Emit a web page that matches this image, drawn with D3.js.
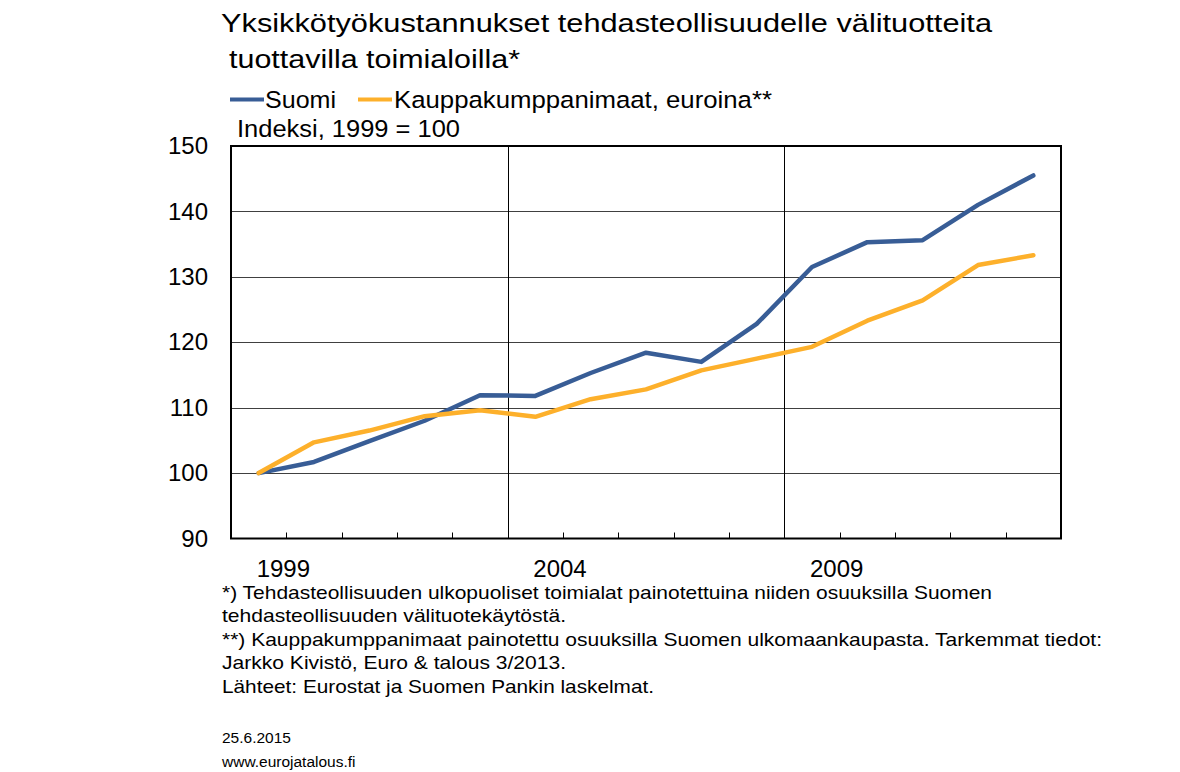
<!DOCTYPE html>
<html>
<head>
<meta charset="utf-8">
<script src="https://cdn.jsdelivr.net/npm/d3@7"></script>
<style>
  html, body { margin: 0; padding: 0; background: #fff; }
  svg { display: block; font-family: Arial, "Liberation Sans", sans-serif; }
</style>
</head>
<body>
<svg id="chart" width="1180" height="772"></svg>
<script>
const years = [1999,2000,2001,2002,2003,2004,2005,2006,2007,2008,2009,2010,2011,2012,2013];
const suomi = [100.0,101.7,104.9,108.0,111.9,111.8,115.3,118.4,117.0,122.8,131.5,135.3,135.6,141.0,145.5];
const kauppakumppanit = [100.0,104.7,106.5,108.7,109.6,108.6,111.3,112.8,115.7,117.5,119.3,123.3,126.4,131.8,133.3];
const yTicks = [90,100,110,120,130,140,150];
const xLabelYears = [1999,2004,2009];
const verticalGridYears = [2004,2009];
const titleLines = ["Yksikkötyökustannukset tehdasteollisuudelle välituotteita", "tuottavilla toimialoilla*"];
const legendLabels = ["Suomi", "Kauppakumppanimaat, euroina**"];
const unitLabel = "Indeksi, 1999 = 100";
const footnotes = [
  "*) Tehdasteollisuuden ulkopuoliset toimialat painotettuina niiden osuuksilla Suomen",
  "tehdasteollisuuden välituotekäytöstä.",
  "**) Kauppakumppanimaat  painotettu osuuksilla Suomen ulkomaankaupasta. Tarkemmat tiedot:",
  "Jarkko Kivistö, Euro & talous 3/2013.",
  "Lähteet: Eurostat ja Suomen Pankin laskelmat."
];
const dateText = "25.6.2015";
const siteText = "www.eurojatalous.fi";

const colors = ["#385D96", "#FDB02B"];

const svg = d3.select("#chart");
const L = 231, R = 1061, T = 146, B = 538.5;

const x = d3.scaleBand().domain(years).range([L, R]).padding(0);
const y = d3.scaleLinear().domain([90, 150]).range([B, T]);
const cx = yr => x(yr) + x.bandwidth() / 2;

function stretchedText(xp, yp, size, len, str) {
  return svg.append("text").attr("x", xp).attr("y", yp).attr("font-size", size)
    .attr("textLength", len).attr("lengthAdjust", "spacingAndGlyphs").text(str);
}

// Title
stretchedText(221, 32, 26.5, 771, titleLines[0]);
stretchedText(229, 68, 26.5, 291, titleLines[1]);

// Legend
const legendPos = [[230, 264, 265, 71], [358, 392, 394, 378]];
legendLabels.forEach((lab, i) => {
  svg.append("line").attr("x1", legendPos[i][0]).attr("x2", legendPos[i][1])
    .attr("y1", 99.5).attr("y2", 99.5).attr("stroke", colors[i]).attr("stroke-width", 4);
  stretchedText(legendPos[i][2], 108, 24.5, legendPos[i][3], lab);
});
stretchedText(237, 137, 23, 223, unitLabel);

// Horizontal gridlines
svg.append("g").selectAll("line").data(yTicks.filter(d => d > 90 && d < 150)).join("line")
  .attr("x1", L).attr("x2", R)
  .attr("y1", d => Math.round(y(d)) + 0.5).attr("y2", d => Math.round(y(d)) + 0.5)
  .attr("stroke", "#404040").attr("stroke-width", 1);

// Vertical gridlines
svg.append("g").selectAll("line").data(verticalGridYears).join("line")
  .attr("x1", d => Math.round(x(d)) + 0.5).attr("x2", d => Math.round(x(d)) + 0.5)
  .attr("y1", T).attr("y2", B)
  .attr("stroke", "#000").attr("stroke-width", 1);

// Y axis labels
const yAxis = d3.axisLeft(y).tickValues(yTicks).tickSize(0).tickPadding(23);
const gy = svg.append("g").attr("transform", `translate(${L},0)`).call(yAxis);
gy.select(".domain").remove();
gy.selectAll("text").attr("font-size", 24).attr("font-family", "Arial, 'Liberation Sans', sans-serif").attr("fill", "#000");

// X ticks (at year boundaries)
svg.append("g").selectAll("line").data(years.slice(1)).join("line")
  .attr("x1", d => Math.round(x(d)) + 0.5).attr("x2", d => Math.round(x(d)) + 0.5)
  .attr("y1", B - 6).attr("y2", B)
  .attr("stroke", "#000").attr("stroke-width", 1);

// X labels
svg.append("g").selectAll("text").data(xLabelYears).join("text")
  .attr("x", d => x(d) + x.bandwidth() - 3).attr("y", 577)
  .attr("text-anchor", "middle").attr("font-size", 24).text(d => d);

// Lines
const line = d3.line().x((d, i) => cx(years[i])).y(d => y(d));
[suomi, kauppakumppanit].forEach((s, i) => {
  svg.append("path").datum(s).attr("d", line).attr("fill", "none")
    .attr("stroke", colors[i]).attr("stroke-width", 4.5)
    .attr("stroke-linejoin", "round").attr("stroke-linecap", "round");
});

// Frame
svg.append("rect").attr("x", L).attr("y", T).attr("width", R - L).attr("height", B - T)
  .attr("fill", "none").attr("stroke", "#000").attr("stroke-width", 2);

// Footnotes
const fnY = [599, 622, 646, 669, 693];
const fnLen = [770, 344, 880, 344, 432];
footnotes.forEach((t, i) => stretchedText(222, fnY[i], 18.5, fnLen[i], t));
svg.append("text").attr("x", 222).attr("y", 743).attr("font-size", 15.5).text(dateText);
svg.append("text").attr("x", 222).attr("y", 767).attr("font-size", 15.5).text(siteText);
</script>
</body>
</html>
